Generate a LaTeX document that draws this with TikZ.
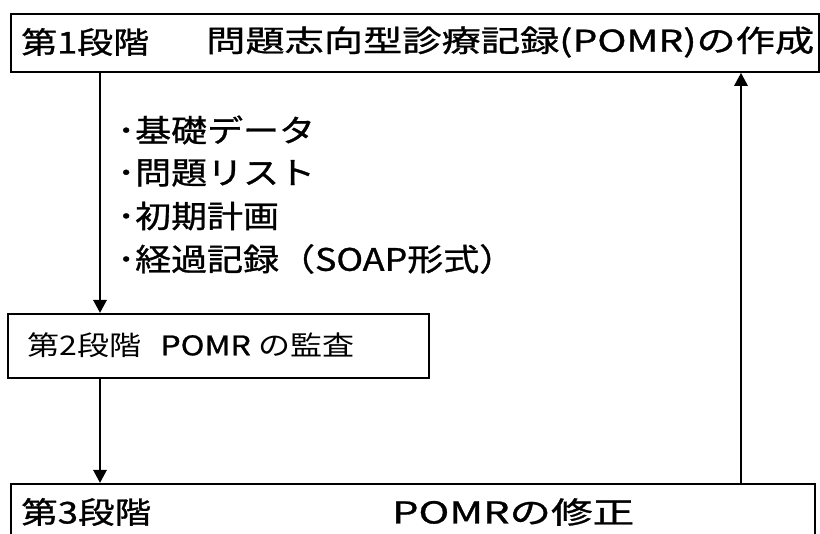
\documentclass[tikz,border=0pt]{standalone}
\usepackage{fontspec}
\usepackage{graphicx}
\newfontfamily\jp{Noto Sans CJK JP}
\newfontfamily\jpm[FakeBold=0.9]{Noto Sans CJK JP}
\usetikzlibrary{arrows.meta}
\newcommand{\fitw}[2]{\resizebox{#1}{\height}{#2}}
\begin{document}
\begin{tikzpicture}[x=1pt,y=-1pt,
  box/.style={draw, line width=1.8pt, inner sep=0pt, anchor=north west},
  conn/.style={line width=2.8pt, -{Triangle[length=13pt,width=13pt]}},
  lbl/.style={anchor=west, inner sep=0pt, font=\jpm\fontsize{30}{30}\selectfont},
  lbll/.style={anchor=west, inner sep=0pt, font=\jpm\fontsize{31}{31}\selectfont},
  lbls/.style={anchor=west, inner sep=0pt, font=\jp\fontsize{27}{27}\selectfont}]
\useasboundingbox (0,0) rectangle (820,534);
\node[box, minimum width=808pt, minimum height=58pt] (s1) at (10,13) {};
\node[box, minimum width=421pt, minimum height=64pt] (s2) at (7,313) {};
\node[box, minimum width=804pt, minimum height=80pt] (s3) at (10,483) {};
\coordinate (ax) at (100,0);
\coordinate (bx) at (741,0);
\node[lbl] (t1a) at (21,42) {\fitw{128pt}{第1段階}};
\node[lbl] (t1b) at (206,42) {\fitw{608pt}{問題志向型診療記録(POMR)の作成}};
\node[lbls] (t2) at (27,345) {\fitw{327pt}{第2段階\hspace{0.6em}{\jpm POMR} の監査}};
\node[lbl] (t3a) at (21,512) {\fitw{130pt}{第3段階}};
\node[lbl] (t3b) at (392,512) {\fitw{242pt}{POMRの修正}};
\node[lbll] (l1) at (117,130) {\scalebox{1.16}[1]{･基礎データ}};
\node[lbll] (l2) at (117,173) {\scalebox{1.16}[1]{･問題リスト}};
\node[lbll] (l3) at (117,216) {\scalebox{1.16}[1]{･初期計画}};
\node[lbll] (l4) at (117,259) {\scalebox{1.16}[1]{･経過記録（SOAP形式）}};
\draw[conn] (s1.south -| ax) -- (s2.north -| ax);
\draw[conn] (s2.south -| ax) -- (s3.north -| ax);
\draw[conn] (s3.north -| bx) -- (s1.south -| bx);
\end{tikzpicture}
\end{document}
